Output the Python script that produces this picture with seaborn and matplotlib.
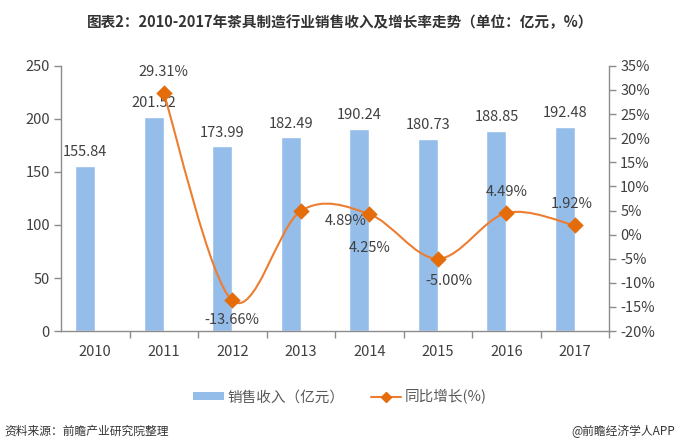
import numpy as np
import pandas as pd
import matplotlib
matplotlib.use("Agg")
import matplotlib.pyplot as plt
from matplotlib.path import Path
from matplotlib.patches import PathPatch, Patch
from matplotlib.lines import Line2D
import seaborn as sns

years = ["2010", "2011", "2012", "2013", "2014", "2015", "2016", "2017"]
revenue = [155.84, 201.52, 173.99, 182.49, 190.24, 180.73, 188.85, 192.48]
growth_years = ["2011", "2012", "2013", "2014", "2015", "2016", "2017"]
growth = [29.31, -13.66, 4.89, 4.25, -5.00, 4.49, 1.92]
left_ticks = [0, 50, 100, 150, 200, 250]
right_ticks = list(range(-20, 40, 5))

bar_name = "销售收入（亿元）"
line_name = "同比增长(%)"
bar_color = "#95BDEA"
line_color = "#ED7D31"
marker_color = "#E46C0A"
text_color = "#404040"
axis_color = "#8C8C8C"

sns.set_theme(style="white")
plt.rcParams["font.family"] = ["Noto Sans CJK SC", "DejaVu Sans"]

fig = plt.figure(figsize=(6.8, 4.48), dpi=100)
ax = fig.add_axes([0.0897, 0.261, 0.806, 0.592])

df = pd.DataFrame({"year": years, "revenue": revenue, "series": bar_name})
sns.barplot(data=df, x="year", y="revenue", hue="series",
            hue_order=[bar_name, "_pad"], palette=[bar_color, bar_color],
            width=0.58, dodge=True, legend=False, ax=ax, saturation=1)
for c in ax.containers:
    ax.bar_label(c, fmt="%.2f", padding=5, fontsize=10.5, color=text_color)

ax.set_ylim(0, 250)
ax.set_yticks(left_ticks)
ax.set_xlim(-0.5, len(years) - 0.5)
ax.set_xlabel("")
ax.set_ylabel("")
ax.tick_params(axis="y", which="major", length=5, width=1, color=axis_color,
               labelsize=10.5, labelcolor=text_color, left=True, direction="out", pad=3)
ax.tick_params(axis="x", which="major", length=0, labelsize=10.5,
               labelcolor=text_color, pad=10)
ax.set_xticks(np.arange(len(years)) + 0.5, minor=True)
ax.tick_params(axis="x", which="minor", length=5, width=1, color=axis_color,
               bottom=True, direction="out")
for s in ["top", "right"]:
    ax.spines[s].set_visible(False)
for s in ["left", "bottom"]:
    ax.spines[s].set_color(axis_color)
    ax.spines[s].set_linewidth(1)

ax2 = ax.twinx()
gx = np.array([years.index(y) for y in growth_years], dtype=float)
gy = np.array(growth, dtype=float)

# smoothed line (Catmull-Rom rendered as Bezier curves)
pts = np.column_stack([gx, gy])
verts = [pts[0]]
codes = [Path.MOVETO]
n = len(pts)
for i in range(n - 1):
    p0 = pts[i - 1] if i > 0 else pts[i]
    p1 = pts[i]
    p2 = pts[i + 1]
    p3 = pts[i + 2] if i + 2 < n else pts[i + 1]
    c1 = p1 + (p2 - p0) / 6.0
    c2 = p2 - (p3 - p1) / 6.0
    verts += [c1, c2, p2]
    codes += [Path.CURVE4] * 3
ax2.add_patch(PathPatch(Path(verts, codes), facecolor="none",
                        edgecolor=line_color, lw=1.5, zorder=3))
gdf = pd.DataFrame({"x": gx, "y": gy})
sns.scatterplot(data=gdf, x="x", y="y", marker="D", s=70, color=marker_color,
                edgecolor=marker_color, linewidth=0, ax=ax2, zorder=4, legend=False)

ax2.set_ylim(-20, 35)
ax2.set_yticks(right_ticks)
ax2.set_yticklabels([f"{t}%" for t in right_ticks])
ax2.set_xlim(-0.5, len(years) - 0.5)
ax2.set_xlabel("")
ax2.set_ylabel("")
ax2.tick_params(axis="y", length=5, width=1, color=axis_color, labelsize=10.5,
                labelcolor=text_color, right=True, direction="out", pad=3)
for s in ["top", "left", "bottom"]:
    ax2.spines[s].set_visible(False)
ax2.spines["right"].set_color(axis_color)
ax2.spines["right"].set_linewidth(1)

offsets = [(0, 21), (0, -20), (45, -10), (0, -34), (11, -22), (0, 21), (-3, 21)]
for x, y, (dx, dy) in zip(gx, gy, offsets):
    ax2.annotate(f"{y:.2f}%", (x, y), xytext=(dx, dy), textcoords="offset pixels",
                 ha="center", va="center", fontsize=10.5, color=text_color)

fig.text(0.5, 0.951, "图表2：2010-2017年茶具制造行业销售收入及增长率走势（单位：亿元，%）",
         ha="center", va="center", fontsize=10.5, fontweight="bold", color="#333333")

handles = [Patch(facecolor=bar_color, edgecolor="none"),
           Line2D([0], [0], color=line_color, lw=1.5, marker="D",
                  markersize=5, markerfacecolor=marker_color, markeredgecolor=marker_color)]
fig.legend(handles, [bar_name, line_name], loc="center", bbox_to_anchor=(0.5, 0.114),
           ncol=2, frameon=False, fontsize=10.5, handlelength=2.1, handleheight=0.5,
           columnspacing=1.8, labelcolor="#595959", handletextpad=0.25)

fig.text(0.007, 0.038, "资料来源：前瞻产业研究院整理", ha="left", va="center",
         fontsize=8.5, color="#333333", style="italic")
fig.text(0.993, 0.038, "@前瞻经济学人APP", ha="right", va="center",
         fontsize=8.5, color="#333333")

fig.savefig("out.png", dpi=100)
